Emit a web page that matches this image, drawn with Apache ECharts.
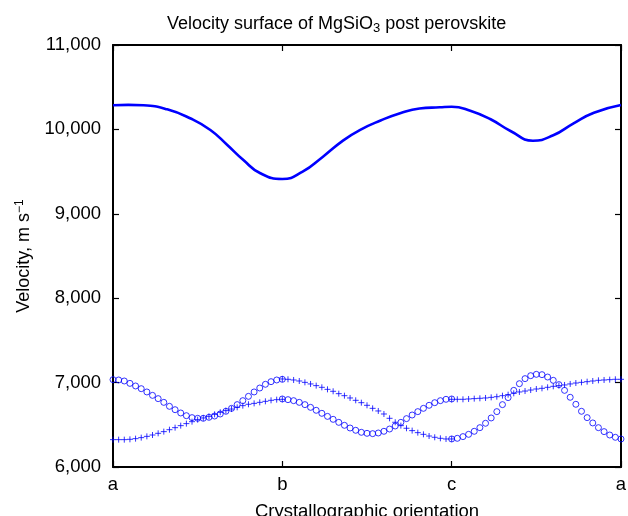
<!DOCTYPE html>
<html>
<head>
<meta charset="utf-8">
<script src="https://cdn.jsdelivr.net/npm/echarts@6/dist/echarts.min.js"></script>
<style>
    html, body { margin: 0; padding: 0; background: #fff; }
    #chart { width: 628px; height: 516px; }
</style>
</head>
<body>
<div id="chart"></div>
<script>
// orientation labels at 0,1,2,3 on the x axis
var orientLabels = ['a', 'b', 'c', 'a'];
var yTicks = [6000, 7000, 8000, 9000, 10000, 11000];

// fast (top) branch: position along path / velocity
var topX = [0, 0.09, 0.18, 0.32, 0.455, 0.575, 0.675, 0.77, 0.87, 1.0, 1.12, 1.24, 1.36, 1.46, 1.58, 1.70, 1.81, 1.93, 2.0, 2.11, 2.23, 2.35, 2.48, 2.60, 2.72, 2.84, 3.0];
var topV = [10286, 10290, 10286, 10238, 10132, 9993, 9815, 9637, 9480, 9412, 9499, 9677, 9870, 9995, 10105, 10195, 10248, 10262, 10269, 10222, 10120, 9978, 9866, 9930, 10072, 10198, 10289];

// slow branches, 31 markers per segment (a-b, b-c, c-a)
var circAB = [7035, 7031, 7019, 6991, 6960, 6928, 6889, 6849, 6810, 6766, 6719, 6679, 6640, 6608, 6585, 6577, 6577, 6589, 6604, 6628, 6660, 6695, 6739, 6786, 6837, 6889, 6936, 6980, 7011, 7031, 7039];
var plusAB = [6324, 6324, 6324, 6328, 6336, 6348, 6363, 6379, 6399, 6419, 6442, 6466, 6490, 6514, 6537, 6561, 6581, 6600, 6624, 6648, 6668, 6687, 6707, 6727, 6743, 6754, 6766, 6778, 6790, 6798, 6802];
var circBC = [6806, 6798, 6786, 6766, 6739, 6707, 6672, 6636, 6600, 6565, 6529, 6494, 6462, 6435, 6411, 6399, 6395, 6403, 6423, 6450, 6486, 6529, 6573, 6616, 6656, 6695, 6731, 6762, 6786, 6802, 6806];
var plusBC = [7043, 7039, 7031, 7019, 7003, 6984, 6964, 6944, 6920, 6897, 6869, 6845, 6818, 6790, 6762, 6731, 6695, 6664, 6628, 6577, 6530, 6490, 6459, 6431, 6407, 6387, 6367, 6352, 6340, 6332, 6332];
var circCA = [6332, 6340, 6360, 6387, 6423, 6466, 6518, 6581, 6656, 6739, 6822, 6908, 6987, 7047, 7082, 7098, 7094, 7066, 7027, 6976, 6908, 6826, 6743, 6660, 6585, 6522, 6466, 6419, 6379, 6352, 6332];
var plusCA = [6802, 6802, 6802, 6806, 6810, 6814, 6818, 6825, 6833, 6845, 6857, 6873, 6889, 6900, 6912, 6924, 6932, 6944, 6956, 6964, 6972, 6984, 6995, 7003, 7011, 7019, 7027, 7031, 7035, 7039, 7039];

var FONT = 'Liberation Sans';
var BLUE = '#0000ff';

function segPoints(segs) { // each segment spans one unit on the x axis
    var pts = [];
    segs.forEach(function (vals, s) {
        var n = vals.length - 1;
        vals.forEach(function (v, i) { pts.push([s + i / n, v]); });
    });
    return pts;
}

var chart = echarts.init(document.getElementById('chart'));

var frameAxis = {
    axisLine: { show: true, onZero: false, lineStyle: { color: '#000', width: 2 } },
    axisTick: { show: true, inside: true, length: 6, lineStyle: { color: '#000', width: 1.2 } },
    splitLine: { show: false }
};

chart.setOption({
    animation: false,
    title: {
        text: '{t|Velocity surface of MgSiO}{s|3}{t| post perovskite}',
        left: 162,
        top: 8,
        textStyle: {
            fontWeight: 'normal',
            rich: {
                t: { fontFamily: FONT, fontSize: 18, fontWeight: 'normal', color: '#000', lineHeight: 22 },
                s: { fontFamily: FONT, fontSize: 13, fontWeight: 'normal', color: '#000', lineHeight: 22, verticalAlign: 'bottom', padding: [7, 0, 0, 0] }
            }
        }
    },
    grid: { left: 113, right: 7, top: 45, bottom: 49, outerBoundsMode: 'none', containLabel: false },
    xAxis: [
        Object.assign({
            type: 'value', min: 0, max: 3, interval: 1, position: 'bottom',
            name: 'Crystallographic orientation',
            nameLocation: 'middle', nameGap: 35,
            nameTextStyle: { fontFamily: FONT, fontSize: 18.5, color: '#000' },
            axisLabel: {
                fontFamily: FONT, fontSize: 18.5, color: '#000', margin: 8,
                formatter: function (v) { return orientLabels[v]; }
            }
        }, frameAxis),
        Object.assign({
            type: 'value', min: 0, max: 3, interval: 1, position: 'top',
            axisLabel: { show: false }
        }, frameAxis)
    ],
    yAxis: [
        Object.assign({
            type: 'value', min: yTicks[0], max: yTicks[yTicks.length - 1], interval: 1000, position: 'left',
            name: '{a|Velocity, m s}{s|\u22121}',
            nameLocation: 'middle', nameGap: 77, nameRotate: 90,
            nameTextStyle: {
                rich: {
                    a: { fontFamily: FONT, fontSize: 18, color: '#000', lineHeight: 22 },
                    s: { fontFamily: FONT, fontSize: 12, color: '#000', lineHeight: 22, verticalAlign: 'top', padding: [0, 0, 7, 0] }
                }
            },
            axisLabel: {
                fontFamily: FONT, fontSize: 18.5, color: '#000', margin: 12,
                formatter: function (v) { return v.toLocaleString('en-US'); }
            }
        }, frameAxis),
        Object.assign({
            type: 'value', min: yTicks[0], max: yTicks[yTicks.length - 1], interval: 1000, position: 'right',
            axisLabel: { show: false }
        }, frameAxis)
    ],
    series: [
        {
            type: 'line',
            data: topX.map(function (x, i) { return [x, topV[i]]; }),
            smooth: 0.5,
            showSymbol: false,
            lineStyle: { color: BLUE, width: 2.6 }
        },
        {
            type: 'scatter',
            data: segPoints([circAB, circBC, circCA]),
            symbol: 'circle',
            symbolSize: 6,
            itemStyle: { color: 'rgba(0,0,0,0)', borderColor: BLUE, borderWidth: 1 }
        },
        {
            type: 'scatter',
            data: segPoints([plusAB, plusBC, plusCA]),
            symbol: 'path://M5,0L5,10M0,5L10,5',
            symbolSize: 6,
            itemStyle: { color: 'rgba(0,0,0,0)', borderColor: BLUE, borderWidth: 1 }
        }
    ]
});
</script>
</body>
</html>
